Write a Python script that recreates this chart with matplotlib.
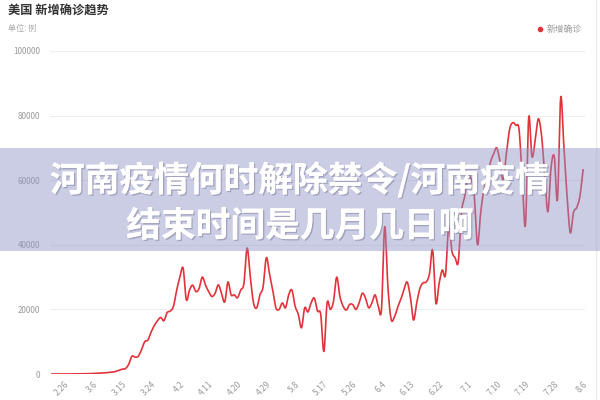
import numpy as np
import matplotlib.pyplot as plt
import matplotlib.patheffects as pe

plt.rcParams['font.family'] = ['Noto Sans CJK SC', 'DejaVu Sans']

# daily new cases, one value per day from 2.22 to 8.6
new_cases = [
    0, 0, 0, 0, 0, 10, 20, 30, 40, 50,
    60, 80, 120, 150, 200, 250, 350, 400, 500, 600,
    800, 1200, 1500, 1700, 3000, 5500, 5200, 5500, 7500, 10000,
    10500, 13000, 15000, 16500, 17500, 16500, 19000, 19500, 21000, 26000,
    30000, 32800, 23000, 26000, 27500, 25500, 26500, 30000, 27500, 25500,
    24000, 25000, 27600, 25000, 22300, 28500, 24500, 24500, 23600, 26000,
    28000, 39000, 30000, 22000, 20500, 24500, 27000, 36000, 31000, 26000,
    20500, 20000, 22000, 20500, 24500, 26000, 21000, 18500, 14300, 20500,
    19200, 22000, 23500, 19500, 18500, 7000, 22000, 20000, 22500, 30000,
    24000, 21000, 19800, 21500, 21500, 20000, 22000, 25000, 23500, 20500,
    22000, 24500, 21000, 20000, 45600, 27000, 17000, 17500, 20500, 23000,
    26000, 28500, 24000, 16700, 22000, 26500, 28200, 28500, 31000, 38400,
    22000, 28000, 32200, 30700, 45600, 38000, 36000, 34700, 50000, 55000,
    61000, 60500, 55000, 40000, 50000, 57000, 60000, 65400, 68000, 70000,
    66000, 60000, 68000, 75600, 77800, 77000, 75600, 60000, 46200, 79400,
    67300, 72000, 79000, 74000, 62000, 50200, 64000, 67300, 54000, 85600,
    70400, 55000, 43700, 50000, 51500, 55000, 63200,
]
tick_labels = ['2.26', '3.6', '3.15', '3.24', '4.2', '4.11', '4.20', '4.29', '5.8',
               '5.17', '5.26', '6.4', '6.13', '6.22', '7.1', '7.10', '7.19', '7.28', '8.6']
y_ticks = [0, 20000, 40000, 60000, 80000, 100000]


def smooth(xs, ys, n=8, k=0.5):
    # cardinal spline through the points, like a "smooth" line chart
    xs = np.asarray(xs, float)
    ys = np.asarray(ys, float)
    ty = np.gradient(ys) * k * 2
    out_x, out_y = [], []
    t = np.linspace(0, 1, n, endpoint=False)
    h00 = 2 * t**3 - 3 * t**2 + 1
    h10 = t**3 - 2 * t**2 + t
    h01 = -2 * t**3 + 3 * t**2
    h11 = t**3 - t**2
    for i in range(len(xs) - 1):
        out_x.extend(xs[i] + t * (xs[i + 1] - xs[i]))
        out_y.extend(h00 * ys[i] + h10 * ty[i] + h01 * ys[i + 1] + h11 * ty[i + 1])
    out_x.append(xs[-1])
    out_y.append(ys[-1])
    return out_x, out_y


fig = plt.figure(figsize=(6, 4), dpi=100)
ax = fig.add_axes([50 / 600, 1 - 374 / 400, 535 / 600, 323 / 400])

days = list(range(len(new_cases)))
sx, sy = smooth(days, new_cases)
ax.plot(sx, sy, color='#e2333a', lw=1.2, solid_joinstyle='round', zorder=3)

ax.set_xlim(-0.6, 166.6)
ax.set_ylim(0, 100000)
ax.set_yticks(y_ticks)
ax.set_yticklabels([str(v) for v in y_ticks], fontsize=5.8, color='#999999')
ax.set_xticks([4 + 9 * k for k in range(len(tick_labels))])
ax.set_xticklabels(tick_labels, fontsize=6, color='#999999', rotation=45,
                   ha='right', va='top', rotation_mode='anchor')
ax.tick_params(length=0, pad=7)
ax.tick_params(axis='x', pad=4)
ax.grid(axis='y', color='#eeeeee', lw=0.8)
for s in ax.spines.values():
    s.set_visible(False)
ax.axhline(0, color='#e6e6e6', lw=0.8, zorder=1)

fig.text(8 / 600, 1 - 10 / 400, '美国 新增确诊趋势', fontsize=8.8, fontweight='bold',
         color='#333333', va='center')
fig.text(8 / 600, 1 - 28 / 400, '单位: 例', fontsize=5.8, color='#aaaaaa', va='center')
fig.text(547 / 600, 1 - 29 / 400, '新增确诊', fontsize=6.3, color='#999999', va='center')
fig.lines.append(plt.Line2D([540 / 600], [1 - 29 / 400], marker='o', ms=3,
                            color='#e2333a', transform=fig.transFigure))
fig.lines.append(plt.Line2D([596 / 600, 596 / 600], [0, 1], color='#eeeeee', lw=1,
                            transform=fig.transFigure))

# lavender banner with headline
fig.patches.append(plt.Rectangle((0, 1 - 251 / 400), 1, 103 / 400,
                                 transform=fig.transFigure, facecolor='#8c91c7',
                                 lw=0, alpha=0.45, zorder=5))
shadow = [pe.withSimplePatchShadow(offset=(1, -1), shadow_rgbFace='#7a7a99', alpha=0.5),
          pe.Normal()]
fig.text(0.5, 1 - 180 / 400, '河南疫情何时解除禁令/河南疫情', fontsize=25,
         fontweight='bold', color='white', ha='center', va='center', zorder=6,
         path_effects=shadow)
fig.text(0.5, 1 - 226 / 400, '结束时间是几月几日啊', fontsize=25,
         fontweight='bold', color='white', ha='center', va='center', zorder=6,
         path_effects=shadow)

fig.savefig('out.png', dpi=100)
